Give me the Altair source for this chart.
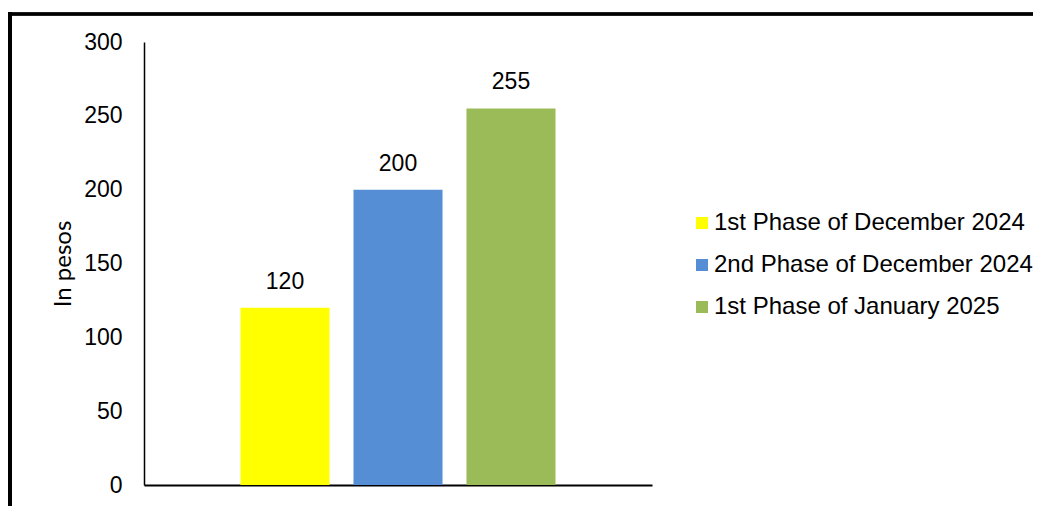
import altair as alt
import pandas as pd

phases = ["1st Phase of December 2024", "2nd Phase of December 2024", "1st Phase of January 2025"]
values = [120, 200, 255]
colors = ["#FFFF00", "#558ED5", "#9BBB59"]
y_ticks = [0, 50, 100, 150, 200, 250, 300]

df = pd.DataFrame({"phase": phases, "value": values})

x = alt.X("phase:N", sort=phases,
          scale=alt.Scale(paddingInner=0.212, paddingOuter=0.854),
          axis=alt.Axis(title=None, labels=False, ticks=False, domain=True,
                        domainColor="#000000", domainWidth=2))
y = alt.Y("value:Q", scale=alt.Scale(domain=[0, 300], nice=False),
          axis=alt.Axis(values=y_ticks, grid=False, ticks=False, tickSize=0,
                        labelPadding=22, labelFontSize=23, labelFont="Liberation Sans",
                        labelColor="#000000", domainColor="#000000", domainWidth=1.5,
                        title="In pesos", titleFont="Lato", titleFontSize=24,
                        titleFontWeight="normal", titleColor="#000000", titlePadding=8))

bars = alt.Chart(df).mark_bar().encode(
    x=x, y=y,
    color=alt.Color("phase:N", sort=phases,
                    scale=alt.Scale(domain=phases, range=colors),
                    legend=alt.Legend(title=None, orient="none", legendX=546, legendY=169,
                                      symbolType="square", symbolSize=144,
                                      symbolStrokeWidth=0, labelFontSize=24,
                                      labelFont="Liberation Sans", labelColor="#000000",
                                      rowPadding=18, labelOffset=0, padding=0,
                                      labelLimit=400))
)

labels = alt.Chart(df).mark_text(baseline="bottom", dy=-14, fontSize=23,
                                 font="Liberation Sans", color="#000000").encode(
    x=alt.X("phase:N", sort=phases), y="value:Q", text="value:Q"
)

left_border = alt.Chart(df).mark_rule(color="#000000", strokeWidth=4).encode(
    x=alt.value(-134), y=alt.value(-30), y2=alt.value(470)
)
top_border = alt.Chart(df).mark_rule(color="#000000", strokeWidth=3).encode(
    x=alt.value(-136), x2=alt.value(900), y=alt.value(-28)
)

chart = alt.layer(bars, labels, left_border, top_border).properties(
    width=508, height=443,
    autosize=alt.AutoSizeParams(type="none"),
    padding={"left": 136, "top": 34, "right": 381, "bottom": 21},
).configure(
    background="white",
    view=alt.ViewConfig(stroke="transparent", strokeWidth=0),
)

chart.save("out.html", embed_options={"renderer": "svg", "actions": False})
